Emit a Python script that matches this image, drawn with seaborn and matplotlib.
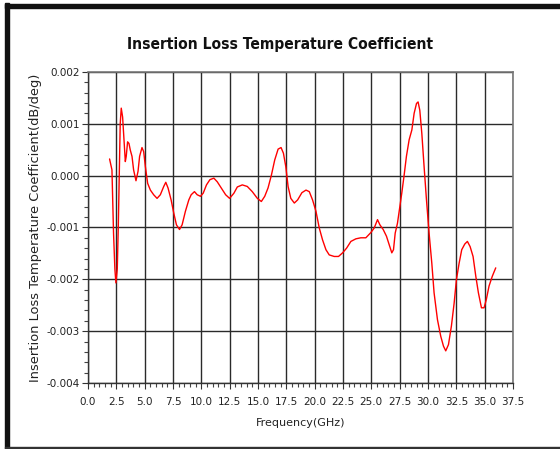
import matplotlib as mpl

mpl.use('Agg')
import numpy as np
import pandas as pd
import matplotlib.pyplot as plt
import seaborn as sns
from matplotlib.ticker import MultipleLocator, FormatStrFormatter
from matplotlib.patches import Rectangle

# values
freq_ghz = [1.91, 2.12, 2.26, 2.38, 2.47, 2.59, 2.68, 2.77, 2.85, 2.94,
            3.06, 3.18, 3.30, 3.38, 3.50, 3.62, 3.74, 3.89, 4.03, 4.24,
            4.42, 4.56, 4.77, 4.92, 5.07, 5.27, 5.51, 5.80, 6.10, 6.39,
            6.69, 6.87, 7.07, 7.34, 7.57, 7.81, 8.08, 8.31, 8.60, 8.90,
            9.11, 9.40, 9.64, 9.93, 10.17, 10.46, 10.76, 11.11, 11.41, 11.76,
            12.15, 12.50, 12.88, 13.18, 13.62, 14.06, 14.50, 14.95, 15.30, 15.60,
            15.89, 16.19, 16.48, 16.78, 17.04, 17.25, 17.46, 17.66, 17.90, 18.21,
            18.50, 18.88, 19.24, 19.53, 19.82, 20.12, 20.41, 20.70, 21.00, 21.29,
            21.73, 22.11, 22.47, 22.82, 23.20, 23.64, 24.08, 24.52, 24.96, 25.26,
            25.55, 25.76, 26.05, 26.34, 26.58, 26.81, 26.96, 27.11, 27.31, 27.52,
            27.69, 27.90, 28.10, 28.34, 28.58, 28.78, 28.99, 29.13, 29.28, 29.46,
            29.66, 29.87, 30.10, 30.34, 30.54, 30.84, 31.13, 31.37, 31.57, 31.81,
            32.07, 32.31, 32.51, 32.75, 32.98, 33.25, 33.48, 33.72, 33.98, 34.22,
            34.45, 34.72, 34.95, 35.15, 35.39, 35.68, 35.98]
coef = [0.00032, 0.00011, -0.00111, -0.00181, -0.00207, -0.00180, -0.00098, 0.00004, 0.00100, 0.00130,
        0.00113, 0.00069, 0.00027, 0.00037, 0.00065, 0.00062, 0.00049, 0.00037, 0.00011, -0.00010,
        0.00008, 0.00037, 0.00054, 0.00046, 0.00017, -0.00015, -0.00028, -0.00037, -0.00044, -0.00037,
        -0.00021, -0.00013, -0.00024, -0.00047, -0.00072, -0.00095, -0.00104, -0.00095, -0.00069, -0.00047,
        -0.00037, -0.00031, -0.00037, -0.00040, -0.00034, -0.00018, -0.00008, -0.00005, -0.00012, -0.00024,
        -0.00037, -0.00044, -0.00034, -0.00022, -0.00018, -0.00021, -0.00031, -0.00044, -0.00050, -0.00040,
        -0.00024, 0.00001, 0.00030, 0.00051, 0.00054, 0.00043, 0.00017, -0.00021, -0.00044, -0.00053,
        -0.00047, -0.00033, -0.00028, -0.00031, -0.00047, -0.00069, -0.00101, -0.00124, -0.00143, -0.00153,
        -0.00156, -0.00156, -0.00149, -0.00140, -0.00127, -0.00122, -0.00120, -0.00120, -0.00110, -0.00101,
        -0.00085, -0.00095, -0.00104, -0.00117, -0.00133, -0.00149, -0.00143, -0.00111, -0.00092, -0.00060,
        -0.00034, 0.00001, 0.00037, 0.00069, 0.00088, 0.00120, 0.00139, 0.00142, 0.00126, 0.00081,
        0.00017, -0.00047, -0.00111, -0.00169, -0.00226, -0.00278, -0.00310, -0.00329, -0.00338, -0.00326,
        -0.00290, -0.00246, -0.00201, -0.00169, -0.00143, -0.00132, -0.00127, -0.00137, -0.00156, -0.00194,
        -0.00226, -0.00255, -0.00255, -0.00239, -0.00213, -0.00194, -0.00178]

sns.set_style('white')
plt.rcParams['font.family'] = ['DejaVu Sans']

df = pd.DataFrame({'freq': freq_ghz, 'coef': coef})

fig = plt.figure(figsize=(5.6, 4.49), dpi=100)
ax = fig.add_axes([0.157, 0.147, 0.759, 0.693])

sns.lineplot(data=df, x='freq', y='coef', ax=ax, color='#ff0000', linewidth=1.0)

ax.set_xlim(0, 37.5)
ax.set_ylim(-0.004, 0.002)
ax.xaxis.set_major_locator(MultipleLocator(2.5))
ax.xaxis.set_minor_locator(MultipleLocator(0.5))
ax.yaxis.set_major_locator(MultipleLocator(0.001))
ax.yaxis.set_minor_locator(MultipleLocator(0.0002))
ax.xaxis.set_major_formatter(FormatStrFormatter('%.1f'))
ax.yaxis.set_major_formatter(FormatStrFormatter('%.3f'))

ax.grid(True, which='major', color='#2a2a2a', linewidth=1.0)
ax.tick_params(axis='both', which='major', direction='out', length=4, width=0.8,
               labelsize=7.5, colors='#333333', pad=2, bottom=True, left=True)
ax.tick_params(axis='both', which='minor', direction='out', length=3, width=0.8,
               colors='#444444', bottom=True, left=True)
ax.tick_params(axis='x', which='major', pad=6)
ax.tick_params(axis='both', labelcolor='#222222')

for side in ['left', 'bottom']:
    ax.spines[side].set_color('#333333')
    ax.spines[side].set_linewidth(1.0)
for side in ['top', 'right']:
    ax.spines[side].set_color('#777777')
    ax.spines[side].set_linewidth(1.2)

ax.set_xlabel('Frequency(GHz)', fontsize=8, color='#222222', labelpad=8)
ax.set_ylabel('Insertion Loss Temperature Coefficient(dB/deg)', fontsize=9.4,
              color='#222222', labelpad=3)

fig.text(0.5, 0.902, 'Insertion Loss Temperature Coefficient',
         ha='center', va='center', fontsize=11.2, fontweight='bold',
         fontstretch='condensed', family=['DejaVu Sans'], color='#111111')

# frame around the picture
fig.patches.append(Rectangle((5 / 560, 0), 3.5 / 560, 1 - 3 / 449,
                             transform=fig.transFigure, color='#111111', zorder=10))
fig.patches.append(Rectangle((5 / 560, 1 - 7.5 / 449), 1, 4 / 449,
                             transform=fig.transFigure, color='#111111', zorder=10))
fig.patches.append(Rectangle((5 / 560, 1 / 449), 1, 1.2 / 449,
                             transform=fig.transFigure, color='#333333', zorder=10))

fig.savefig('out.png', dpi=100)
